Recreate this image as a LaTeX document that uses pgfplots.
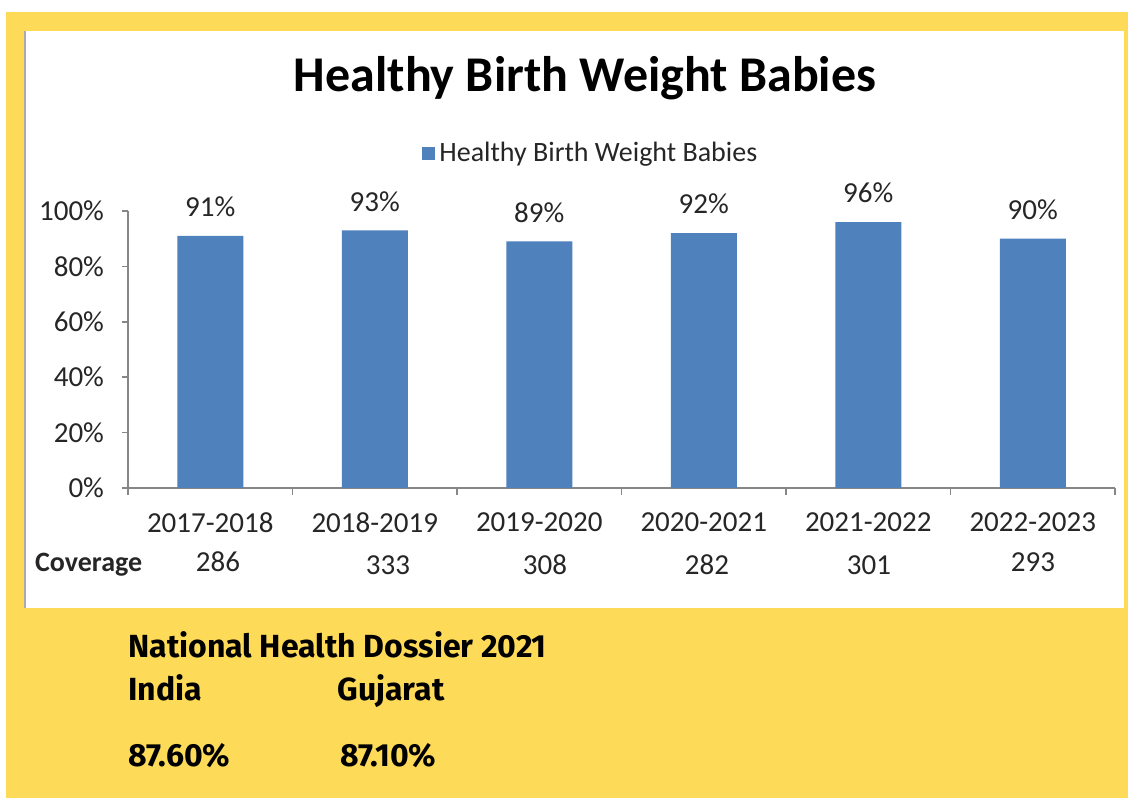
\documentclass[border=0pt]{standalone}
\usepackage{pgfplots}
\pgfplotsset{compat=1.18}
\usepackage{fontspec}
\setmainfont{Carlito}
\newfontfamily\fira{Fira Sans}
\definecolor{ybg}{HTML}{FDDA57}
\definecolor{barblue}{HTML}{4F81BD}
\definecolor{axgray}{HTML}{868686}
\definecolor{txt}{HTML}{262626}
\begin{document}
\begin{tikzpicture}[x=0.5pt,y=0.5pt]
\fill[white] (0,0) rectangle (1128,798);
\fill[ybg] (6,0) rectangle (1128,786);
\fill[white] (25,190) rectangle (1124,767);
\draw[axgray!70,line width=1pt] (24.5,190) -- (24.5,767);
\coordinate (O) at (128,310);
\begin{axis}[
  at={(O)}, anchor=south west,
  scale only axis, width=493.5pt, height=138.5pt,
  xmin=-0.5, xmax=5.5, ymin=0, ymax=100,
  axis lines*=left,
  axis line style={axgray, line width=0.8pt},
  clip=false,
  ybar, bar width=33pt,
  xtick={0,...,5},
  xticklabels={2017-2018,2018-2019,2019-2020,2020-2021,2021-2022,2022-2023},
  minor xtick={-0.5,0.5,...,5.5},
  major x tick style={draw=none},
  minor x tick style={axgray, line width=0.8pt},
  minor tick length=3.5pt,
  ytick={0,20,...,100},
  yticklabel={\pgfmathprintnumber{\tick}\%},
  y tick style={axgray, line width=0.8pt},
  major tick length=3pt,
  tick align=outside,
  tick label style={font=\fontsize{14.5}{16}\selectfont, text=txt},
  /pgf/number format/assume math mode=true,
  xticklabel style={yshift=-6pt},
  yticklabel style={xshift=-5.5pt},
  nodes near coords={\pgfmathprintnumber{\pgfplotspointmeta}\%},
  nodes near coords style={font=\fontsize{14.5}{16}\selectfont, text=txt, yshift=6pt},
  legend style={at={(0.5,1)}, anchor=south, yshift=21pt, xshift=-15pt, draw=none, fill=none,
    font=\fontsize{14}{16}\selectfont, text=txt, inner sep=0pt},
  legend image code/.code={\fill[barblue] (0cm,-0.12cm) rectangle (0.24cm,0.12cm);},
]
\addplot[fill=barblue, draw=none] coordinates {(0,91) (1,93) (2,89) (3,92) (4,96) (5,90)};
\addlegendentry{Healthy Birth Weight Babies}
\end{axis}
\node[font=\bfseries\fontsize{25}{28}\selectfont, text=black] at (585,720) {Healthy Birth Weight Babies};
\node[font=\bfseries\fontsize{14}{16}\selectfont, text=txt, anchor=west] at (28,233) {Coverage};
\foreach \x/\y/\v in {218/236/286, 388/233/333, 545/233/308, 707/233/282, 869/233/301, 1033/236/293}
  \node[font=\fontsize{14.5}{16}\selectfont, text=txt] at (\x,\y) {\v};
\begin{scope}[every node/.style={font=\fira\bfseries\fontsize{16}{18}\selectfont, anchor=base west, text=black, inner sep=0pt}]
\node at (128,141) {National Health Dossier 2021};
\node at (128,98) {India};
\node at (337,98) {Gujarat};
\node at (128,32) {87.60\%};
\node at (340,32) {87.10\%};
\end{scope}
\end{tikzpicture}
\end{document}
